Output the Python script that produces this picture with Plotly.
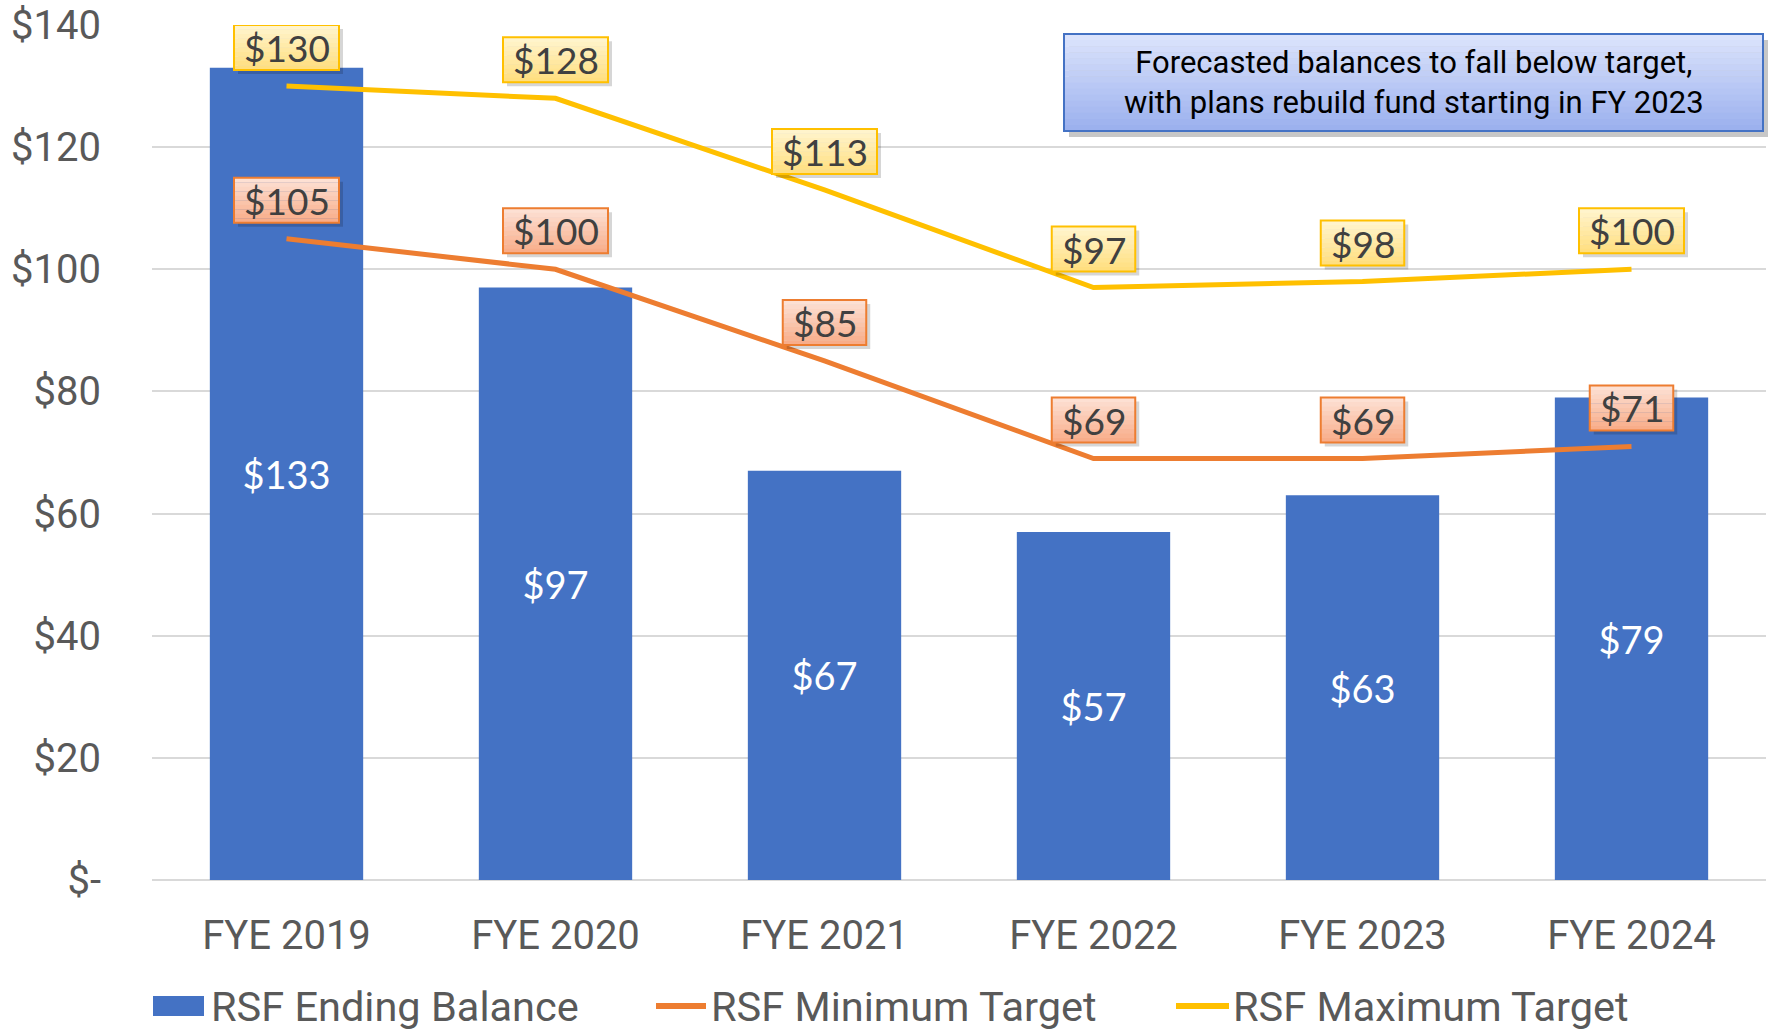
import plotly.graph_objects as go

categories = ["FYE 2019", "FYE 2020", "FYE 2021", "FYE 2022", "FYE 2023", "FYE 2024"]
ending_balance = [133, 97, 67, 57, 63, 79]
minimum_target = [105, 100, 85, 69, 69, 71]
maximum_target = [130, 128, 113, 97, 98, 100]
y_ticks = [0, 20, 40, 60, 80, 100, 120, 140]
y_tick_labels = ["$-", "$20", "$40", "$60", "$80", "$100", "$120", "$140"]
series_names = ["RSF Ending Balance", "RSF Minimum Target", "RSF Maximum Target"]
note_text = "Forecasted balances to fall below target,<br>with plans rebuild fund starting in FY 2023"

TICK = "Roboto, Noto Sans, sans-serif"
LABEL = "Lato, Noto Sans, sans-serif"
BLUE, ORANGE, GOLD = "#4472c4", "#ed7d31", "#ffc000"
GREY = "#595959"

# the page body margin is removed by a small post script, so the figure fills the window
W, H = 1774, 1031
PLOT_L, PLOT_R, PLOT_T, PLOT_B = 152, 1766, 25, 880
ML, MT = PLOT_L, PLOT_T
PW, PH = PLOT_R - PLOT_L, PLOT_B - PLOT_T
MR, MB = W - ML - PW, H - MT - PH


def px_x(p):
    return (p - PLOT_L) / PW


def px_y(p):
    return (PLOT_B - p) / PH


def mix(c1, c2, t):
    a = [int(c1[i:i + 2], 16) for i in (1, 3, 5)]
    b = [int(c2[i:i + 2], 16) for i in (1, 3, 5)]
    return "rgb(%d,%d,%d)" % tuple(round(a[k] + (b[k] - a[k]) * t) for k in range(3))


fig = go.Figure()
fig.add_trace(go.Bar(
    x=categories, y=ending_balance, name=series_names[0],
    marker=dict(color=BLUE, line=dict(width=0)),
    text=[f"${v}" for v in ending_balance], textposition="inside",
    insidetextanchor="middle", textangle=0,
    textfont=dict(color="white", size=38, family=LABEL),
    showlegend=False,
))
fig.add_trace(go.Scatter(
    x=categories, y=minimum_target, name=series_names[1], mode="lines",
    line=dict(color=ORANGE, width=5), showlegend=False,
))
fig.add_trace(go.Scatter(
    x=categories, y=maximum_target, name=series_names[2], mode="lines",
    line=dict(color=GOLD, width=5), showlegend=False,
))

shapes = []
annotations = []
NSTRIP = 10


def add_label(i, v, top, bottom, border):
    text = f"${v}"
    bw = 21.5 * len(text) + 19
    y0, y1 = 16, 61
    common = dict(xref="x", yref="y", xsizemode="pixel", ysizemode="pixel",
                  xanchor=i, yanchor=v, layer="above")
    shapes.append(dict(type="rect", x0=-bw / 2 + 4, x1=bw / 2 + 4, y0=y0 - 4, y1=y1 - 4,
                       fillcolor="rgba(0,0,0,0.16)", line=dict(width=0), **common))
    h = (y1 - y0) / NSTRIP
    for k in range(NSTRIP):
        shapes.append(dict(type="rect", x0=-bw / 2, x1=bw / 2,
                           y0=y1 - (k + 1) * h - 0.3, y1=y1 - k * h,
                           fillcolor=mix(top, bottom, k / (NSTRIP - 1)),
                           line=dict(width=0), **common))
    shapes.append(dict(type="rect", x0=-bw / 2, x1=bw / 2, y0=y0, y1=y1,
                       fillcolor="rgba(0,0,0,0)", line=dict(width=2, color=border), **common))
    annotations.append(dict(
        x=i, y=v, xref="x", yref="y", text=text, showarrow=False,
        xanchor="center", yanchor="middle",
        yshift=(y0 + y1) / 2, font=dict(size=37, family=LABEL, color="#404040"),
    ))


for i, v in enumerate(maximum_target):
    add_label(i, v, "#fff4cc", "#ffdf80", GOLD)
for i, v in enumerate(minimum_target):
    add_label(i, v, "#fde0d3", "#f8ad8a", ORANGE)

# note box with gradient and shadow
bx0, bx1, by0, by1 = 1064, 1763, 34, 131
shapes.append(dict(type="rect", xref="paper", yref="paper",
                   x0=px_x(bx0 + 5), x1=px_x(bx1 + 5), y0=px_y(by1 + 6), y1=px_y(by0 + 6),
                   fillcolor="rgba(0,0,0,0.22)", line=dict(width=0), layer="above"))
NB = 16
hb = (by1 - by0) / NB
for k in range(NB):
    shapes.append(dict(type="rect", xref="paper", yref="paper",
                       x0=px_x(bx0), x1=px_x(bx1),
                       y0=px_y(by0 + (k + 1) * hb + 0.4), y1=px_y(by0 + k * hb),
                       fillcolor=mix("#dbe3fc", "#9cb1ee", k / (NB - 1)),
                       line=dict(width=0), layer="above"))
shapes.append(dict(type="rect", xref="paper", yref="paper",
                   x0=px_x(bx0), x1=px_x(bx1), y0=px_y(by1), y1=px_y(by0),
                   fillcolor="rgba(0,0,0,0)", line=dict(width=2, color=BLUE), layer="above"))
annotations.append(dict(
    x=px_x((bx0 + bx1) / 2), y=px_y((by0 + by1) / 2), xref="paper", yref="paper",
    xanchor="center", yanchor="middle",
    text=note_text, showarrow=False,
    font=dict(size=31, family=TICK, color="#000000"),
))

# manual legend
ly = 1006
shapes.append(dict(type="rect", xref="paper", yref="paper",
                   x0=px_x(153), x1=px_x(204), y0=px_y(ly + 10), y1=px_y(ly - 10),
                   fillcolor=BLUE, line=dict(width=0)))
shapes.append(dict(type="line", xref="paper", yref="paper",
                   x0=px_x(656), x1=px_x(706), y0=px_y(ly), y1=px_y(ly),
                   line=dict(color=ORANGE, width=6)))
shapes.append(dict(type="line", xref="paper", yref="paper",
                   x0=px_x(1176), x1=px_x(1229), y0=px_y(ly), y1=px_y(ly),
                   line=dict(color=GOLD, width=6)))
for name, xs in zip(series_names, [209, 709, 1231]):
    annotations.append(dict(
        x=px_x(xs), y=px_y(ly), xref="paper", yref="paper", xanchor="left", yanchor="middle",
        text=name, showarrow=False, font=dict(size=41.5, family=TICK, color=GREY),
    ))

fig.update_layout(
    width=W, height=H,
    margin=dict(l=ML, r=MR, t=MT, b=MB, pad=0),
    paper_bgcolor="white", plot_bgcolor="white",
    bargap=0.43,
    showlegend=False,
    hovermode=False,
    font=dict(family=TICK, color=GREY, size=38),
    xaxis=dict(showgrid=False, showline=False, ticks="", automargin=False,
               tickfont=dict(size=40, color=GREY, family=TICK), ticklabelstandoff=28),
    yaxis=dict(range=[0, 140], tickvals=y_ticks, ticktext=y_tick_labels, automargin=False,
               showgrid=True, gridcolor="#d9d9d9", gridwidth=2, zeroline=True,
               zerolinecolor="#d9d9d9", zerolinewidth=2, ticks="",
               ticklabeloverflow="allow",
               tickfont=dict(size=40, color=GREY, family=TICK), ticklabelstandoff=50),
    shapes=shapes,
    annotations=annotations,
)

fig.write_html(
    "out.html",
    config={"displayModeBar": False, "staticPlot": True},
    post_script="document.body.style.margin='0';document.body.style.overflow='hidden';",
)
